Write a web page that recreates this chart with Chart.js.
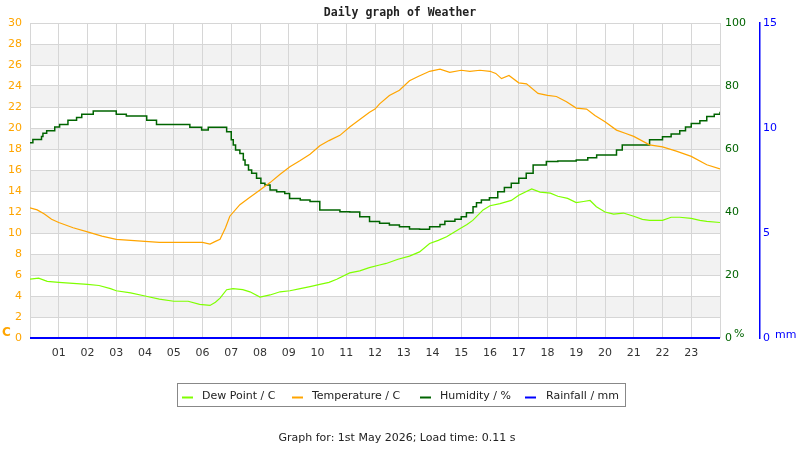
<!DOCTYPE html>
<html>
<head>
<meta charset="utf-8">
<script src="https://cdn.jsdelivr.net/npm/chart.js@4"></script>
<style>
html,body{margin:0;padding:0;background:#fff;}
#wrap{width:800px;height:450px;}
</style>
</head>
<body>
<div id="wrap"><canvas id="c" width="800" height="450"></canvas></div>
<script>
// ---- Data (hours of day, values) ----
const hourTicks = [1,2,3,4,5,6,7,8,9,10,11,12,13,14,15,16,17,18,19,20,21,22,23];

const tempHours = [0,0.25,0.5,0.75,1.0,1.5,2.0,2.5,3.0,3.5,4.0,4.5,5.0,5.5,6.0,6.26,6.45,6.61,6.8,6.95,7.3,7.65,8.0,8.35,8.7,9.04,9.4,9.74,10.08,10.4,10.78,11.12,11.47,11.81,12.0,12.16,12.5,12.85,13.2,13.5,13.9,14.26,14.6,15.0,15.3,15.65,16.0,16.2,16.4,16.66,17.0,17.27,17.67,18.0,18.31,18.66,19.0,19.36,19.65,20.0,20.4,20.7,21.0,21.55,22.0,22.48,23.0,23.54,24.0];
const tempValues = [12.4,12.2,11.8,11.3,11.0,10.5,10.1,9.7,9.4,9.3,9.2,9.1,9.1,9.1,9.1,8.95,9.2,9.4,10.5,11.6,12.7,13.4,14.1,14.8,15.6,16.3,16.9,17.5,18.3,18.8,19.3,20.1,20.8,21.5,21.8,22.3,23.1,23.6,24.5,24.9,25.4,25.6,25.3,25.5,25.4,25.5,25.4,25.2,24.7,25.0,24.3,24.2,23.3,23.1,23.0,22.5,21.9,21.8,21.2,20.6,19.8,19.5,19.2,18.4,18.2,17.8,17.3,16.5,16.1];

const dewHours = [0,0.3,0.6,1.0,1.5,2.0,2.4,2.8,3.0,3.5,4.0,4.5,5.0,5.5,5.9,6.26,6.45,6.61,6.84,7.06,7.4,7.65,8.0,8.35,8.7,9.04,9.4,9.74,10.08,10.4,10.67,11.12,11.47,11.8,12.16,12.39,12.8,13.2,13.55,13.9,14.2,14.49,14.95,15.2,15.4,15.76,16.0,16.35,16.74,17.0,17.45,17.74,18.1,18.36,18.7,19.0,19.25,19.48,19.7,20.0,20.3,20.64,21.0,21.3,21.55,22.0,22.3,22.6,23.0,23.3,23.54,24.0];
const dewValues = [5.6,5.7,5.4,5.3,5.2,5.1,5.0,4.7,4.5,4.3,4.0,3.7,3.5,3.5,3.2,3.1,3.4,3.8,4.6,4.7,4.6,4.4,3.9,4.1,4.4,4.5,4.7,4.9,5.1,5.3,5.6,6.2,6.4,6.7,6.95,7.1,7.5,7.8,8.2,9.0,9.3,9.65,10.4,10.8,11.2,12.2,12.6,12.8,13.1,13.6,14.2,13.9,13.8,13.5,13.3,12.9,13.0,13.1,12.5,12.0,11.8,11.9,11.6,11.3,11.2,11.2,11.5,11.5,11.4,11.2,11.1,11.0];

const humHours = [0,0.1,0.4,0.45,0.58,0.86,1.03,1.32,1.62,1.8,2.2,3.0,3.35,4.06,4.4,5.56,5.97,6.2,6.84,7.0,7.07,7.15,7.3,7.42,7.48,7.6,7.71,7.88,8.03,8.17,8.35,8.58,8.86,9.03,9.4,9.74,10.08,10.78,11.12,11.47,11.81,12.16,12.5,12.85,13.2,13.55,13.9,14.26,14.43,14.78,15.0,15.18,15.41,15.53,15.7,15.98,16.27,16.5,16.74,17.0,17.26,17.5,17.96,18.36,19.0,19.4,19.71,20.4,20.6,21.55,22.0,22.3,22.6,22.8,23.0,23.3,23.54,23.8,24.0];
const humValues = [62,63,64,65,65.8,67,67.8,69.1,70,71,72.1,71,70.5,69.1,67.8,66.9,66.0,66.9,65.5,62.9,61.3,59.7,58.6,56.5,54.9,53.3,52.3,50.7,49.1,48.6,47.0,46.4,45.9,44.3,43.8,43.3,40.6,40.1,40,38.5,37,36.4,35.9,35.3,34.6,34.5,35.3,36.0,37.1,37.7,38.5,39.8,41.7,42.9,43.8,44.5,46.4,47.8,49.1,50.7,52.3,54.9,56.0,56.2,56.5,57.2,58.1,59.7,61.3,62.9,63.9,64.8,65.8,67,68.1,69,70.3,71,71.8];

const rainHours = [0,24];
const rainValues = [0,0];

const seriesLabels = ['Dew Point / C','Temperature / C','Humidity / %','Rainfall / mm'];
const seriesColors = ['#7FFF00','#FFA500','#006400','#0000FF'];
const titleText = 'Daily graph of Weather';
const footerText = 'Graph for: 1st May 2026; Load time: 0.11 s';

const toXY = (xs, ys) => xs.map((x, i) => ({x: x, y: ys[i]}));

const FONT = 'DejaVu Sans';

const decoPlugin = {
  id: 'deco',
  beforeDraw(chart) {
    const ctx = chart.ctx, ca = chart.chartArea, y = chart.scales.y;
    ctx.save();
    ctx.fillStyle = '#ffffff';
    ctx.fillRect(0, 0, chart.width, chart.height);
    ctx.fillStyle = '#f2f2f2';
    for (let v = 2; v < 30; v += 4) {
      const top = y.getPixelForValue(v + 2), bot = y.getPixelForValue(v);
      ctx.fillRect(ca.left, top, ca.right - ca.left, bot - top);
    }
    ctx.restore();
  },
  afterDraw(chart) {
    const ctx = chart.ctx;
    ctx.save();
    // title
    ctx.font = 'bold 11.5px "DejaVu Sans Mono"';
    ctx.fillStyle = '#222';
    ctx.textAlign = 'center';
    ctx.textBaseline = 'middle';
    ctx.fillText(titleText, 400, 13);
    // unit labels
    ctx.textAlign = 'left';
    ctx.fillStyle = '#FFA500';
    ctx.font = 'bold 12px ' + FONT;
    ctx.fillText('C', 2, 333);
    ctx.font = '11px ' + FONT;
    ctx.fillStyle = '#006400';
    ctx.fillText('%', 734, 334);
    ctx.fillStyle = '#0000FF';
    ctx.fillText('mm', 775, 335);
    // legend box
    ctx.strokeStyle = '#888';
    ctx.lineWidth = 1;
    ctx.strokeRect(177.5, 383.5, 448, 23);
    const sw = [182, 292, 420, 525];
    const tx = [202, 312, 440, 546];
    for (let i = 0; i < 4; i++) {
      ctx.strokeStyle = seriesColors[i];
      ctx.lineWidth = 2;
      ctx.beginPath();
      ctx.moveTo(sw[i], 397.5);
      ctx.lineTo(sw[i] + 11, 397.5);
      ctx.stroke();
      ctx.fillStyle = '#222';
      ctx.textBaseline = 'middle';
      ctx.fillText(seriesLabels[i], tx[i], 396);
    }
    // footer
    ctx.textAlign = 'center';
    ctx.fillStyle = '#222';
    ctx.fillText(footerText, 397, 438);
    ctx.restore();
  }
};

new Chart(document.getElementById('c'), {
  type: 'line',
  data: {
    datasets: [
      {label: seriesLabels[0], data: toXY(dewHours, dewValues), borderColor: seriesColors[0], borderWidth: 1.2, pointRadius: 0, yAxisID: 'y', tension: 0},
      {label: seriesLabels[1], data: toXY(tempHours, tempValues), borderColor: seriesColors[1], borderWidth: 1.2, pointRadius: 0, yAxisID: 'y', tension: 0},
      {label: seriesLabels[2], data: toXY(humHours, humValues), borderColor: seriesColors[2], borderWidth: 1.5, pointRadius: 0, yAxisID: 'yH', stepped: true},
      {label: seriesLabels[3], data: toXY(rainHours, rainValues), borderColor: seriesColors[3], borderWidth: 2, pointRadius: 0, yAxisID: 'yR', clip: false}
    ]
  },
  options: {
    responsive: false,
    animation: false,
    devicePixelRatio: 1,
    layout: {padding: {top: 23, left: 0, right: 0, bottom: 0}},
    plugins: {legend: {display: false}, title: {display: false}, tooltip: {enabled: false}},
    scales: {
      x: {
        type: 'linear', position: 'bottom', min: 0, max: 24,
        afterBuildTicks: (s) => { s.ticks = [0].concat(hourTicks, [24]).map(v => ({value: v})); },
        ticks: {autoSkip: false, maxRotation: 0, padding: 9, color: '#333', font: {family: FONT, size: 11},
          callback: (v) => (hourTicks.includes(v) ? String(v).padStart(2, '0') : '')},
        grid: {color: '#d6d6d6', drawTicks: false},
        border: {display: false},
        afterFit: (s) => { s.height = 112; }
      },
      y: {
        position: 'left', min: 0, max: 30,
        ticks: {stepSize: 2, padding: 8, color: '#FFA500', font: {family: FONT, size: 11}},
        grid: {color: '#d6d6d6', drawTicks: false},
        border: {display: true, color: '#d6d6d6'},
        afterFit: (s) => { s.width = 30; }
      },
      yH: {
        position: 'right', min: 0, max: 100, weight: 0,
        ticks: {stepSize: 20, padding: 5, color: '#006400', font: {family: FONT, size: 11}},
        grid: {display: false, drawTicks: false},
        border: {display: false},
        afterFit: (s) => { s.width = 40; }
      },
      yR: {
        position: 'right', min: 0, max: 15, weight: 1,
        ticks: {stepSize: 5, padding: 3, color: '#0000FF', font: {family: FONT, size: 11}},
        grid: {display: false, drawTicks: false},
        border: {display: true, color: '#0000FF', width: 1.5},
        afterFit: (s) => { s.width = 40; }
      }
    }
  },
  plugins: [decoPlugin]
});
</script>
</body>
</html>
